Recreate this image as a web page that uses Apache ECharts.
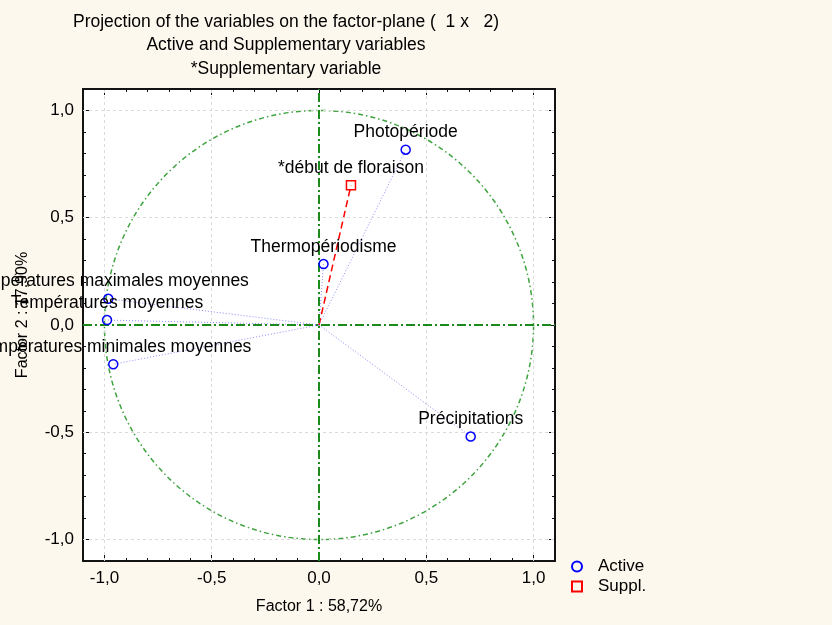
<!DOCTYPE html>
<html>
<head>
<meta charset="utf-8">
<script src="https://cdn.jsdelivr.net/npm/echarts@6/dist/echarts.min.js"></script>
<style>
  html, body { margin: 0; padding: 0; background: #fdf8ed; }
  #container { width: 832px; height: 625px; }
</style>
</head>
<body>
<div id="container"></div>
<script>
var activeNames = ['Photopériode', 'Thermopériodisme', 'Températures maximales moyennes',
  'Températures moyennes', 'Températures minimales moyennes', 'Précipitations'];
var activeX = [0.404, 0.021, -0.982, -0.988, -0.959, 0.707];
var activeY = [0.817, 0.284, 0.122, 0.023, -0.183, -0.520];

var supplNames = ['*début de floraison'];
var supplX = [0.149];
var supplY = [0.651];

var majorTicks = [-1.0, -0.5, 0.0, 0.5, 1.0];
var minorTicks = [-1.1, -1.0, -0.9, -0.8, -0.7, -0.6, -0.5, -0.4, -0.3, -0.2, -0.1, 0.0,
  0.1, 0.2, 0.3, 0.4, 0.5, 0.6, 0.7, 0.8, 0.9, 1.0, 1.1];
var gridValues = [-1.0, -0.5, 0.5, 1.0];
var unitCircle = [[0, 0, 1]]; // centre x, centre y, radius

var font = 'Arial, "Liberation Sans", sans-serif';

function fmt(v) {
  return v.toFixed(1).replace('.', ',');
}

function makeAxis(pos, ticks, len, labels) {
  return {
    type: 'value',
    position: pos,
    min: -1.1,
    max: 1.1,
    axisLine: { show: true, onZero: false, lineStyle: { color: '#111', width: 1.5 } },
    axisTick: { show: true, inside: true, length: len, customValues: ticks, lineStyle: { color: '#111' } },
    axisLabel: labels ? {
      show: true, customValues: majorTicks, formatter: fmt,
      color: '#000', fontSize: 17, fontFamily: font, margin: 9
    } : { show: false },
    splitLine: { show: false }
  };
}

var xAxes = [
  makeAxis('bottom', majorTicks, 6, true),
  makeAxis('bottom', minorTicks, 3, false),
  makeAxis('top', majorTicks, 6, false),
  makeAxis('top', minorTicks, 3, false)
];
xAxes[0].name = 'Factor 1 : 58,72%';
xAxes[0].nameLocation = 'middle';
xAxes[0].nameGap = 38;
xAxes[0].nameTextStyle = { color: '#000', fontSize: 16, fontFamily: font };

var yAxes = [
  makeAxis('left', majorTicks, 6, true),
  makeAxis('left', minorTicks, 3, false),
  makeAxis('right', majorTicks, 6, false),
  makeAxis('right', minorTicks, 3, false)
];
yAxes[0].name = 'Factor 2 : 17,90%';
yAxes[0].nameLocation = 'middle';
yAxes[0].nameGap = 52;
yAxes[0].nameTextStyle = { color: '#000', fontSize: 16, fontFamily: font, padding: [0, 0, 0, 20] };

var activeData = [], supplData = [], activeRays = [], supplRays = [];
for (var i = 0; i < activeNames.length; i++) {
  activeData.push({ name: activeNames[i], value: [activeX[i], activeY[i]] });
  activeRays.push({ coords: [[0, 0], [activeX[i], activeY[i]]] });
}
for (var j = 0; j < supplNames.length; j++) {
  supplData.push({ name: supplNames[j], value: [supplX[j], supplY[j]] });
  supplRays.push({ coords: [[0, 0], [supplX[j], supplY[j]]] });
}

var gridLines = [];
gridValues.forEach(function (v) {
  gridLines.push({ xAxis: v });
  gridLines.push({ yAxis: v });
});

var labelStyle = {
  show: true,
  position: 'top',
  distance: 3,
  formatter: '{b}',
  color: '#000',
  fontSize: 17.5,
  fontFamily: font
};

var myChart = echarts.init(document.getElementById('container'));
var option = {
  backgroundColor: '#fdf8ed',
  animation: false,
  title: {
    text: 'Projection of the variables on the factor-plane (  1 x   2)\nActive and Supplementary variables\n*Supplementary variable',
    left: 281,
    top: 5,
    textAlign: 'center',
    textStyle: { color: '#000', fontSize: 17.5, fontWeight: 'normal', fontFamily: font, lineHeight: 23.5 }
  },
  legend: {
    orient: 'vertical',
    left: 566,
    top: 553,
    itemWidth: 10,
    itemHeight: 10,
    itemGap: 3,
    textStyle: { color: '#000', fontSize: 17, fontFamily: font, padding: [0, 0, 0, 11] },
    data: [
      { name: 'Active', icon: 'circle' },
      { name: 'Suppl.', icon: 'rect' }
    ]
  },
  grid: {
    left: 83,
    top: 89,
    width: 472,
    height: 472,
    show: true,
    backgroundColor: '#fff',
    borderColor: '#111',
    borderWidth: 1.5
  },
  xAxis: xAxes,
  yAxis: yAxes,
  series: [
    {
      name: 'grid',
      type: 'custom',
      coordinateSystem: 'cartesian2d',
      data: unitCircle,
      z: 1,
      silent: true,
      renderItem: function (params, api) {
        var c = api.coord([api.value(0), api.value(1)]);
        var s = api.size([api.value(2), api.value(2)]);
        return {
          type: 'circle',
          shape: { cx: c[0], cy: c[1], r: (s[0] + s[1]) / 2 },
          style: { fill: null, stroke: '#3fa33f', lineWidth: 1.5, lineDash: [5, 3, 1.5, 3] }
        };
      },
      markLine: {
        silent: true,
        symbol: 'none',
        label: { show: false },
        lineStyle: { color: '#dadada', type: [3, 3], width: 1 },
        data: gridLines
      }
    },
    {
      name: 'zero',
      type: 'scatter',
      data: [],
      z: 2,
      markLine: {
        silent: true,
        symbol: 'none',
        label: { show: false },
        lineStyle: { color: '#1b8a1b', type: [9, 3, 2, 3], width: 2 },
        data: [{ xAxis: 0 }, { yAxis: 0 }]
      }
    },
    {
      name: 'activeRays',
      type: 'lines',
      coordinateSystem: 'cartesian2d',
      silent: true,
      z: 3,
      lineStyle: { color: '#8c8cff', type: [1, 2], width: 1, opacity: 1 },
      data: activeRays
    },
    {
      name: 'supplRays',
      type: 'lines',
      coordinateSystem: 'cartesian2d',
      silent: true,
      z: 3,
      lineStyle: { color: '#ff0000', type: [7, 4], width: 1.5, opacity: 1 },
      data: supplRays
    },
    {
      name: 'Active',
      type: 'scatter',
      symbol: 'circle',
      symbolSize: 9,
      z: 5,
      itemStyle: { color: 'rgba(0,0,0,0)', borderColor: '#0000ff', borderWidth: 1.5, opacity: 1 },
      label: labelStyle,
      data: activeData
    },
    {
      name: 'Suppl.',
      type: 'scatter',
      symbol: 'rect',
      symbolSize: 9,
      z: 5,
      itemStyle: { color: 'rgba(0,0,0,0)', borderColor: '#ff0000', borderWidth: 1.5, opacity: 1 },
      label: labelStyle,
      data: supplData
    }
  ]
};
myChart.setOption(option);
</script>
</body>
</html>
